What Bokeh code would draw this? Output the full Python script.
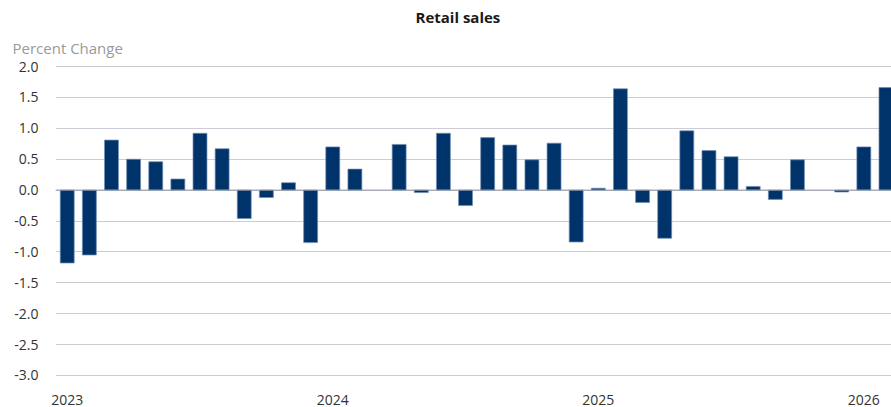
from bokeh.plotting import figure
from bokeh.models import ColumnDataSource, FixedTicker, Span, Title, Range1d
from bokeh.embed import file_html
from bokeh.resources import INLINE
import numpy as np

# Monthly retail sales, percent change
months = [f"{y}-{m:02d}" for y in (2023, 2024, 2025, 2026) for m in range(1, 13)][:38]
values = [
    -1.18, -1.05, 0.81, 0.50, 0.46, 0.18, 0.92, 0.67, -0.46, -0.12, 0.12, -0.85,   # 2023
    0.70, 0.34, None, 0.74, -0.04, 0.92, -0.25, 0.85, 0.73, 0.49, 0.76, -0.84,     # 2024
    0.03, 1.64, -0.20, -0.78, 0.96, 0.64, 0.54, 0.06, -0.15, 0.49, None, -0.03,    # 2025
    0.70, 1.66,                                                                     # 2026
]
year_ticks = [0, 12, 24, 36]
year_labels = ["2023", "2024", "2025", "2026"]
y_ticks = [2.0, 1.5, 1.0, 0.5, 0.0, -0.5, -1.0, -1.5, -2.0, -2.5, -3.0]

idx = list(range(len(months)))
vals = [np.nan if v is None else v for v in values]
src = ColumnDataSource(dict(x=idx, top=vals, month=months))

FONT = "Open Sans"

p = figure(width=891, height=407, output_backend="svg", toolbar_location=None,
           x_range=Range1d(-0.53, 37.25), y_range=Range1d(-3.05, 2.05),
           min_border_left=55, min_border_right=0, min_border_top=63, min_border_bottom=28)
p.outline_line_color = None
p.background_fill_color = "white"
p.border_fill_color = "white"
p.title.visible = False

p.vbar(x="x", top="top", bottom=0, width=0.63, source=src,
       fill_color="#00336a", line_color="#6f8db3", line_width=1, line_alpha=0.7)

zero = Span(location=0, dimension="width", line_color="#8f99a6", line_width=1)
p.add_layout(zero)

# axes
p.xaxis.ticker = FixedTicker(ticks=year_ticks)
p.xaxis.major_label_overrides = {t: l for t, l in zip(year_ticks, year_labels)}
p.xaxis.axis_line_color = None
p.xaxis.major_tick_line_color = None
p.xaxis.minor_tick_line_color = None
p.xaxis.major_label_standoff = 10
p.xaxis.major_label_text_font = FONT
p.xaxis.major_label_text_font_size = "14px"
p.xaxis.major_label_text_color = "#333333"

p.yaxis.ticker = FixedTicker(ticks=y_ticks)
p.yaxis.major_label_overrides = {t: f"{t:.1f}" for t in y_ticks}
p.yaxis.axis_line_color = None
p.yaxis.major_tick_line_color = None
p.yaxis.minor_tick_line_color = None
p.yaxis.major_label_standoff = 11
p.yaxis.major_label_text_font = FONT
p.yaxis.major_label_text_font_size = "14px"
p.yaxis.major_label_text_color = "#333333"

p.xgrid.grid_line_color = None
p.ygrid.grid_line_color = "#cdccd4"
p.ygrid.grid_line_width = 1

# caption (closest to plot) then title (top)
cap = Title(text="Percent Change", align="left", offset=-43, standoff=11,
            text_font=FONT, text_font_size="15px", text_font_style="normal",
            text_color="#9a9a9a")
p.add_layout(cap, "above")
main = Title(text="Retail sales", align="left", offset=360, standoff=8,
             text_font=FONT, text_font_size="15px", text_font_style="bold",
             text_color="#1a1a1a")
p.add_layout(main, "above")

open("out.html", "w").write(file_html(p, INLINE))
